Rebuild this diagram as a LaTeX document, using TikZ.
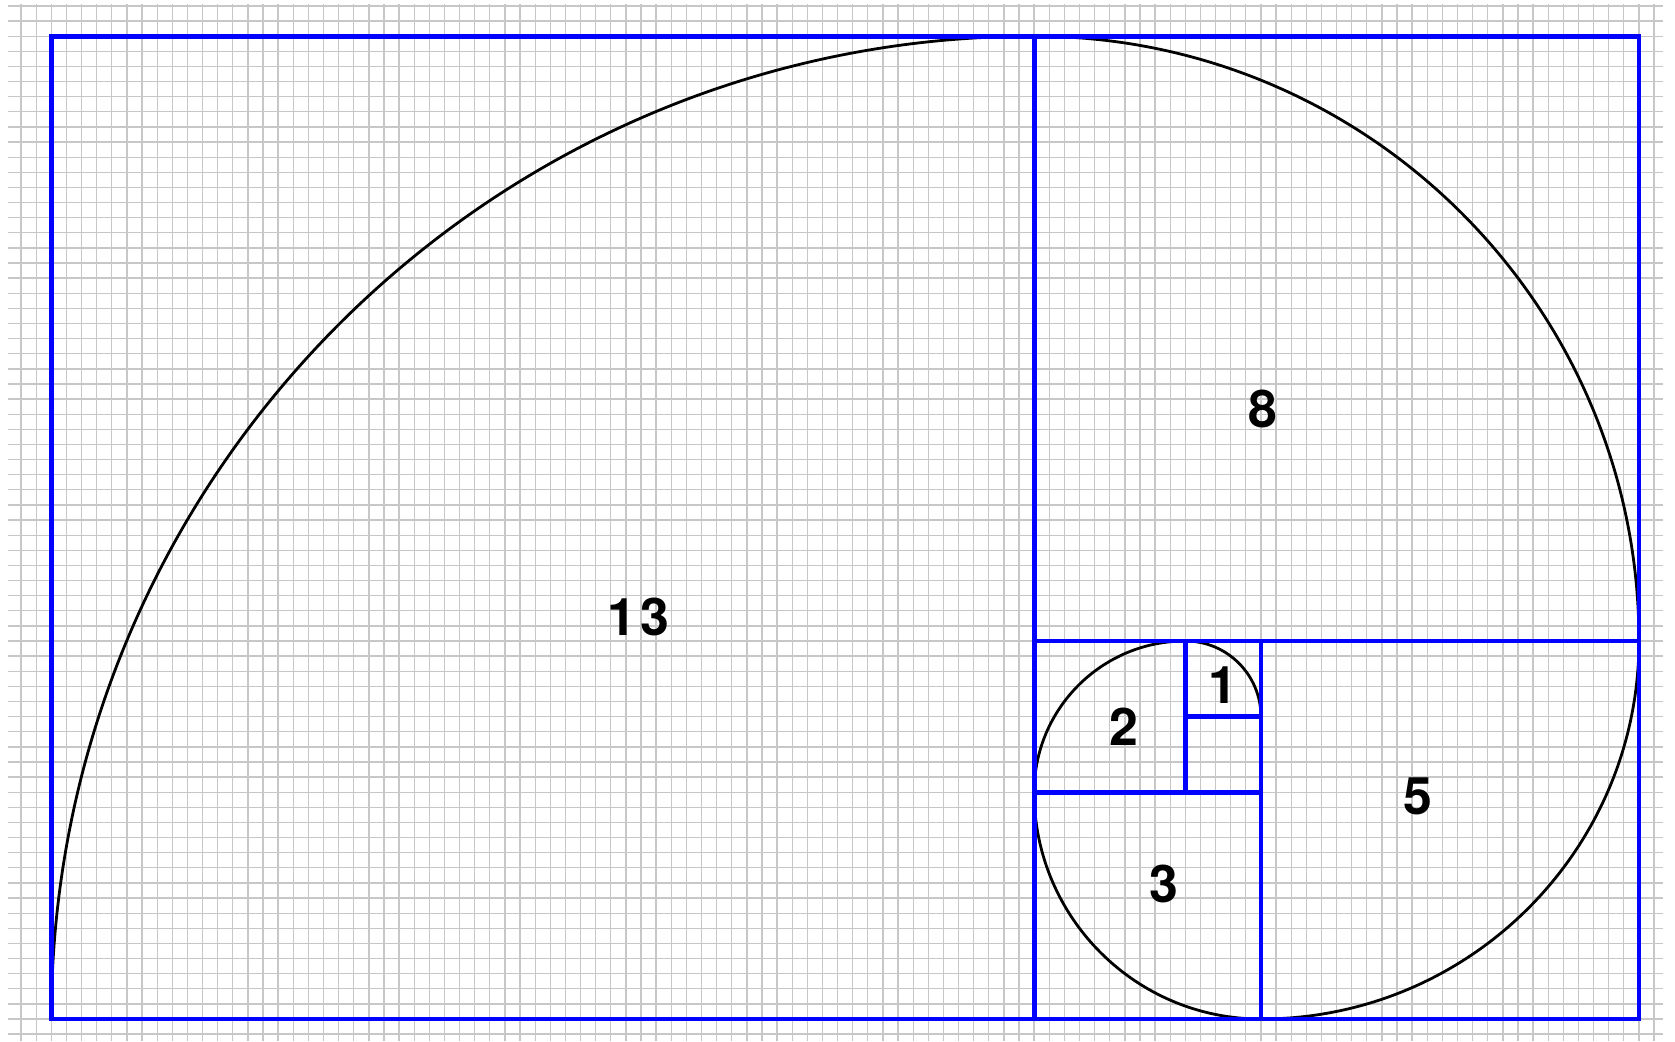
\documentclass[tikz,border=0pt]{standalone}
\usepackage{fontspec}
\setmainfont{TeX Gyre Heros}
\begin{document}
\begin{tikzpicture}[x=1cm,y=1cm,
  gridline/.style={draw=black!22, line width=0.5pt},
  squareline/.style={draw=blue, line width=1.8pt},
  spiralline/.style={draw=black, line width=1.05pt},
  numlabel/.style={font=\fontsize{19.5}{19.5}\selectfont\bfseries, inner sep=0pt}]
\useasboundingbox (-0.679,-0.291) rectangle (21.477,13.479);
\fill[white] (-0.679,-0.291) rectangle (21.477,13.479);
% grid
\foreach \i in {-1,...,67}
  \draw[gridline] (-0.573,\i*0.2) -- (21.32,\i*0.2);
\foreach \i in {-2,...,106}
  \draw[gridline] (\i*0.2,-0.291) -- (\i*0.2,13.43);
% spiral
\draw[spiralline] (16,4) arc[start angle=0,end angle=90,radius=1]
  arc[start angle=90,end angle=180,radius=2]
  arc[start angle=180,end angle=270,radius=3]
  arc[start angle=270,end angle=360,radius=5]
  arc[start angle=0,end angle=90,radius=8]
  arc[start angle=90,end angle=180,radius=13];
% squares
\draw[squareline] (0,0) rectangle (21,13);
\draw[squareline] (13,0) -- (13,13);
\draw[squareline] (13,5) -- (21,5);
\draw[squareline] (16,0) -- (16,5);
\draw[squareline] (13,3) -- (16,3);
\draw[squareline] (15,3) -- (15,5);
\draw[squareline] (15,4) -- (16,4);
% labels
\node[numlabel] (l13) at (7.77,5.32) {1\hspace{1.5pt}3};
\node[numlabel] (l8) at (16.02,8.07) {8};
\node[numlabel] (l5) at (18.07,2.95) {5};
\node[numlabel] (l3) at (14.72,1.78) {3};
\node[numlabel] (l2) at (14.19,3.86) {2};
\node[numlabel] (l1) at (15.50,4.42) {1};
\end{tikzpicture}
\end{document}
